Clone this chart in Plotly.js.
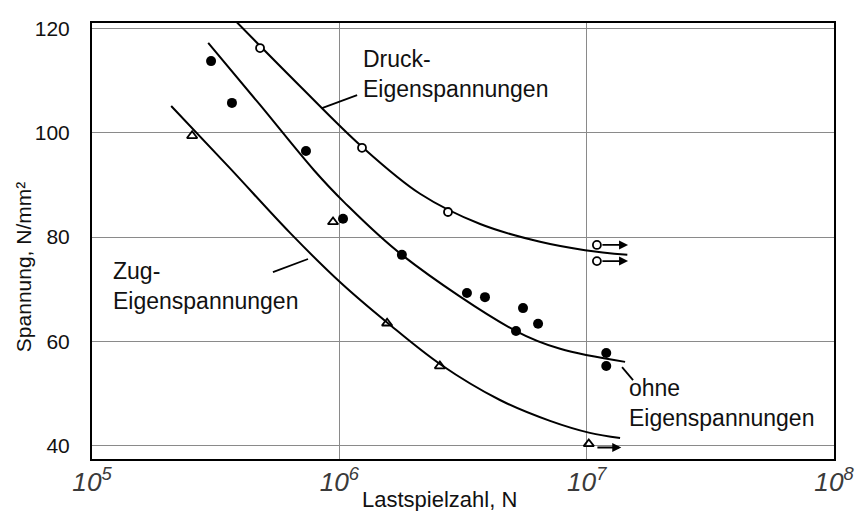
<!DOCTYPE html>
<html>
<head>
<meta charset="utf-8">
<script src="https://cdn.plot.ly/plotly-3.0.1.min.js"></script>
<style>html,body{margin:0;padding:0;background:#fff;}#chart{width:855px;height:511px;}</style>
</head>
<body>
<div id="chart"></div>
<script>
// Measured points (Lastspielzahl N, Spannung N/mm²)
const N_druck = [4.78e5, 1.235e6, 2.75e6, 1.10e7, 1.10e7];
const S_druck = [116.2, 97.1, 84.8, 78.5, 75.4];
const N_ohne = [3.03e5, 3.68e5, 7.33e5, 1.035e6, 1.79e6, 3.28e6, 3.88e6, 5.53e6, 6.36e6, 5.18e6, 1.20e7, 1.20e7];
const S_ohne = [113.7, 105.7, 96.5, 83.5, 76.6, 69.3, 68.5, 66.4, 63.4, 62.0, 57.8, 55.3];
const N_zug = [2.54e5, 9.43e5, 1.56e6, 2.55e6, 1.02e7];
const S_zug = [99.4, 82.9, 63.5, 55.3, 40.4];

// Fitted Wöhler curves
const druckCurveN = [3.61e5, 6.94e5, 1.235e6, 2.12e6, 3.71e6, 6.48e6, 9.85e6, 1.46e7];
const druckCurveS = [122.5, 108.9, 97.3, 88.3, 82.5, 79.1, 77.5, 76.6];
const ohneCurveN = [2.95e5, 4.78e5, 7.90e5, 1.045e6, 1.79e6, 5.18e6, 7.81e6, 1.43e7];
const ohneCurveS = [117.2, 105.3, 92.8, 86.7, 76.6, 62.0, 58.6, 56.1];
const zugCurveN = [2.09e5, 3.61e5, 6.32e5, 1.016e6, 1.573e6, 2.55e6, 4.46e6, 7.11e6, 1.03e7, 1.365e7];
const zugCurveS = [105.1, 93.2, 80.8, 71.2, 63.5, 55.7, 48.8, 44.8, 42.5, 41.5];

// Run-outs (Durchläufer) arrows
const runoutStartN = [1.10e7, 1.10e7, 1.05e7];
const runoutEndN = [1.47e7, 1.47e7, 1.38e7];
const runoutS = [78.5, 75.4, 39.7];

// Labels and their leader lines
const labelTexts = ['Druck-<br>Eigenspannungen', 'Zug-<br>Eigenspannungen', 'ohne<br>Eigenspannungen'];
const labelN = [1.22e6, 1.19e5, 1.45e7];
const labelS = [111.2, 70.6, 48.2];
const leaderN = [[8.51e5, 1.18e6], [5.39e5, 7.47e5], [1.39e7, 1.54e7]];
const leaderS = [[104.7, 107.2], [73.3, 75.8], [55.1, 52.6]];

// Axis titles
const xTitle = 'Lastspielzahl, N';
const yTitle = 'Spannung, N/mm²';

const FONT = 'Liberation Sans, Arial, Helvetica, sans-serif';
const lineStyle = {color: '#000', width: 2, shape: 'spline', smoothing: 1};

const traces = [
  {x: druckCurveN, y: druckCurveS, mode: 'lines', line: lineStyle, hoverinfo: 'skip'},
  {x: ohneCurveN, y: ohneCurveS, mode: 'lines', line: lineStyle, hoverinfo: 'skip'},
  {x: zugCurveN, y: zugCurveS, mode: 'lines', line: lineStyle, hoverinfo: 'skip'}
];
for (let i = 0; i < leaderN.length; i++) {
  traces.push({x: leaderN[i], y: leaderS[i], mode: 'lines', line: {color: '#000', width: 1.8}, hoverinfo: 'skip'});
}
traces.push(
  {x: N_druck, y: S_druck, mode: 'markers', cliponaxis: false,
   marker: {symbol: 'circle', size: 8, color: '#fff', line: {color: '#000', width: 1.8}}},
  {x: N_ohne, y: S_ohne, mode: 'markers', cliponaxis: false,
   marker: {symbol: 'circle', size: 10, color: '#000', line: {width: 0}}},
  {x: N_zug, y: S_zug, mode: 'markers', cliponaxis: false,
   marker: {symbol: 'triangle-up-open', size: 9, color: '#000', line: {color: '#000', width: 1.8}}}
);

const annotations = [];
for (let i = 0; i < labelTexts.length; i++) {
  annotations.push({
    x: Math.log10(labelN[i]), y: labelS[i], xref: 'x', yref: 'y',
    text: labelTexts[i], showarrow: false, xanchor: 'left', yanchor: 'middle', align: 'left',
    font: {family: FONT, size: 23, color: '#111'}
  });
}
for (let i = 0; i < runoutS.length; i++) {
  annotations.push({
    x: Math.log10(runoutEndN[i]), y: runoutS[i], xref: 'x', yref: 'y',
    ax: Math.log10(runoutStartN[i]), ay: runoutS[i], axref: 'x', ayref: 'y',
    text: '', showarrow: true, arrowhead: 2, arrowsize: 1, arrowwidth: 1.8, arrowcolor: '#000',
    startstandoff: 4
  });
}
annotations.push({
  text: xTitle, xref: 'paper', yref: 'paper', x: 0.469, y: -0.094,
  xanchor: 'center', yanchor: 'middle', showarrow: false,
  font: {family: FONT, size: 22, color: '#111'}
});
annotations.push({
  text: yTitle, xref: 'paper', yref: 'paper', x: -0.093, y: 0.44, textangle: -90,
  xanchor: 'center', yanchor: 'middle', showarrow: false,
  font: {family: FONT, size: 21, color: '#111'}
});

const layout = {
  width: 855, height: 511,
  margin: {l: 92, r: 21, t: 23, b: 52},
  paper_bgcolor: '#fff', plot_bgcolor: '#fff',
  showlegend: false,
  font: {family: FONT, color: '#111'},
  xaxis: {
    type: 'log', range: [5, 8], dtick: 1, exponentformat: 'power',
    showgrid: true, gridcolor: '#8a8a8a', gridwidth: 1, zeroline: false,
    showline: true, mirror: true, linecolor: '#000', linewidth: 2, ticks: '',
    tickfont: {family: FONT, size: 21, style: 'italic', color: '#3a3a3a'},
    automargin: false
  },
  yaxis: {
    range: [37.5, 121], dtick: 20, tick0: 0,
    showgrid: true, gridcolor: '#8a8a8a', gridwidth: 1, zeroline: false,
    showline: true, mirror: true, linecolor: '#000', linewidth: 2, ticks: '',
    tickfont: {family: FONT, size: 21, color: '#111'},
    ticklabelstandoff: 16,
    automargin: false
  },
  annotations: annotations
};

Plotly.newPlot('chart', traces, layout, {displayModeBar: false, staticPlot: true});
</script>
</body>
</html>
